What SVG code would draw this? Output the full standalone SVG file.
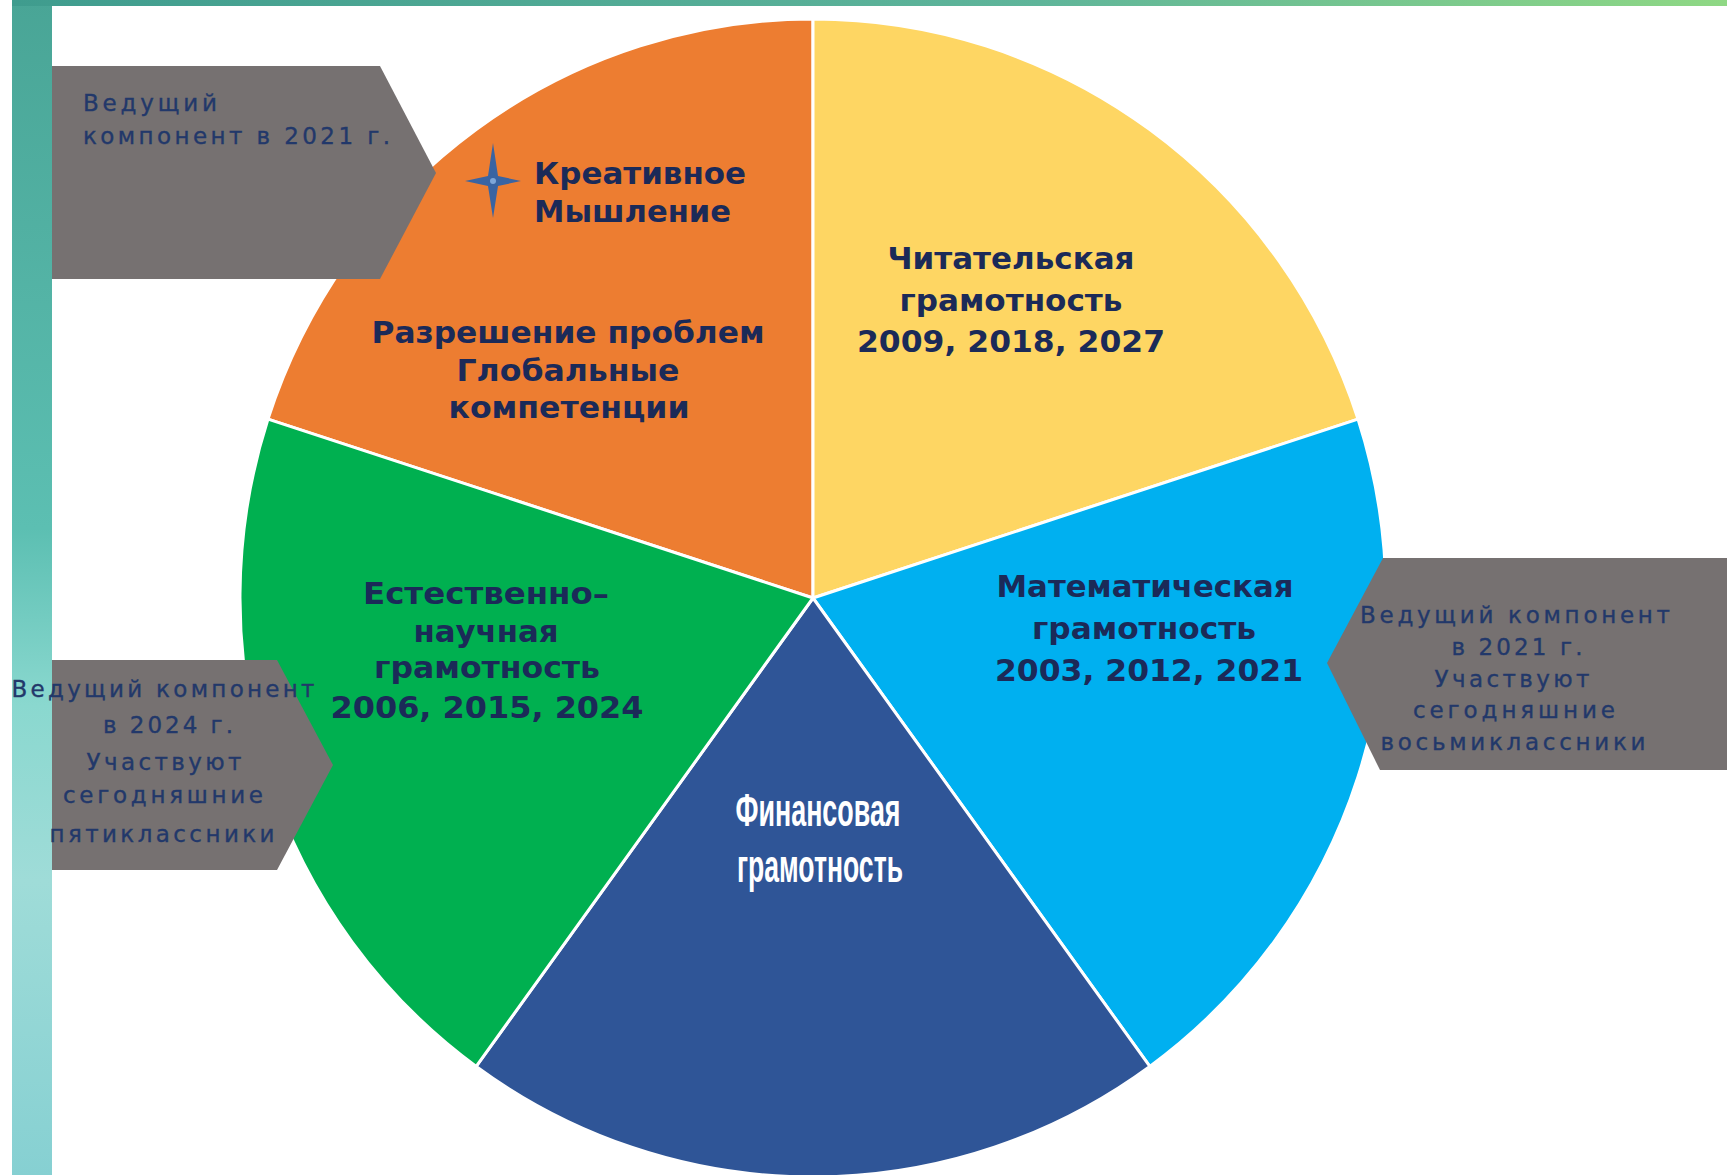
<svg xmlns="http://www.w3.org/2000/svg" width="1727" height="1175" viewBox="0 0 1727 1175">
<defs>
<linearGradient id="topbar" x1="0" y1="0" x2="1" y2="0">
<stop offset="0" stop-color="#3f9c8e"/>
<stop offset="0.6" stop-color="#5fb59a"/>
<stop offset="1" stop-color="#8fd884"/>
</linearGradient>
<linearGradient id="leftbar" x1="0" y1="0" x2="0" y2="1">
<stop offset="0" stop-color="#49a596"/>
<stop offset="0.45" stop-color="#5cbfb2"/>
<stop offset="0.6" stop-color="#8ad8cf"/>
<stop offset="0.75" stop-color="#9fdcd8"/>
<stop offset="1" stop-color="#86d0d2"/>
</linearGradient>
<style>
.slice{stroke:#ffffff;stroke-width:3;stroke-linejoin:round}
.call{fill:#767171}
.ct{font-family:"DejaVu Sans","Noto Sans",sans-serif;font-size:23px;fill:#22386a;stroke:#22386a;stroke-width:0.35;text-anchor:middle}
.pt{font-family:"DejaVu Sans","Noto Sans",sans-serif;font-size:31px;font-weight:bold;fill:#1b2a58;text-anchor:middle}
.ft{font-family:"Liberation Sans","DejaVu Sans",sans-serif;font-size:46px;font-weight:bold;fill:#ffffff;text-anchor:middle}
</style>
</defs>
<rect x="0" y="0" width="1727" height="1175" fill="#ffffff"/>
<rect x="12" y="0" width="40" height="1175" fill="url(#leftbar)"/>
<rect x="12" y="0" width="1715" height="6" fill="url(#topbar)"/>

<g id="pie">
<g id="slice-creative"><path class="slice" fill="#ed7d31" d="M813,598 L268,419.1 A573,579 0 0 1 813,19 Z"/></g>
<g id="slice-reading"><path class="slice" fill="#fed663" d="M813,598 L813,19 A573,579 0 0 1 1358,419.1 Z"/></g>
<g id="slice-math"><path class="slice" fill="#00b0f0" d="M813,598 L1358,419.1 A573,579 0 0 1 1149.8,1066.4 Z"/></g>
<g id="slice-finance"><path class="slice" fill="#2f5597" d="M813,598 L1149.8,1066.4 A573,579 0 0 1 476.2,1066.4 Z"/></g>
<g id="slice-science"><path class="slice" fill="#00b050" d="M813,598 L476.2,1066.4 A573,579 0 0 1 268,419.1 Z"/></g>
</g>

<g id="label-creative">
<path d="M493,143 L498,176 L521,181 L498,186 L493,218 L488,186 L465,181 L488,176 Z" fill="#3a64a2"/>
<circle cx="493" cy="181" r="3" fill="#7ea6d8"/>
<text class="pt" x="534" y="184" style="text-anchor:start" textLength="212" lengthAdjust="spacingAndGlyphs">Креативное</text>
<text class="pt" x="534" y="222" style="text-anchor:start" textLength="197" lengthAdjust="spacingAndGlyphs">Мышление</text>
<text class="pt" x="568" y="343" textLength="393" lengthAdjust="spacingAndGlyphs">Разрешение проблем</text>
<text class="pt" x="568" y="381" textLength="223" lengthAdjust="spacingAndGlyphs">Глобальные</text>
<text class="pt" x="569" y="418" textLength="241" lengthAdjust="spacingAndGlyphs">компетенции</text>
</g>

<g id="label-reading">
<text class="pt" x="1011" y="269" textLength="247" lengthAdjust="spacingAndGlyphs">Читательская</text>
<text class="pt" x="1011" y="311" textLength="223" lengthAdjust="spacingAndGlyphs">грамотность</text>
<text class="pt" x="1011" y="352" textLength="308" lengthAdjust="spacingAndGlyphs">2009, 2018, 2027</text>
</g>

<g id="label-math">
<text class="pt" x="1145" y="597" textLength="297" lengthAdjust="spacingAndGlyphs">Математическая</text>
<text class="pt" x="1144" y="639" textLength="224" lengthAdjust="spacingAndGlyphs">грамотность</text>
<text class="pt" x="1149" y="681" textLength="308" lengthAdjust="spacingAndGlyphs">2003, 2012, 2021</text>
</g>

<g id="label-science">
<text class="pt" x="486" y="604" textLength="246" lengthAdjust="spacingAndGlyphs">Естественно–</text>
<text class="pt" x="486" y="642" textLength="145" lengthAdjust="spacingAndGlyphs">научная</text>
<text class="pt" x="487" y="678" textLength="226" lengthAdjust="spacingAndGlyphs">грамотность</text>
<text class="pt" x="487" y="718" textLength="313" lengthAdjust="spacingAndGlyphs">2006, 2015, 2024</text>
</g>

<g id="label-finance">
<text class="ft" x="818" y="826" textLength="165" lengthAdjust="spacingAndGlyphs">Финансовая</text>
<text class="ft" x="820" y="882" textLength="166" lengthAdjust="spacingAndGlyphs">грамотность</text>
</g>

<g id="callout-top-left">
<path class="call" d="M52,66 L380,66 L436,173 L380,279 L52,279 Z"/>
<text class="ct" x="83" y="111" style="text-anchor:start" textLength="134" lengthAdjust="spacing">Ведущий</text>
<text class="ct" x="83" y="144" style="text-anchor:start" textLength="307" lengthAdjust="spacing">компонент в 2021 г.</text>
</g>

<g id="callout-left">
<path class="call" d="M52,660 L277,660 L333,765 L277,870 L52,870 Z"/>
<text class="ct" x="163" y="697" textLength="303" lengthAdjust="spacing">Ведущий компонент</text>
<text class="ct" x="168" y="733" textLength="130" lengthAdjust="spacing">в 2024 г.</text>
<text class="ct" x="164" y="770" textLength="155" lengthAdjust="spacing">Участвуют</text>
<text class="ct" x="163" y="803" textLength="200" lengthAdjust="spacing">сегодняшние</text>
<text class="ct" x="162" y="842" textLength="225" lengthAdjust="spacing">пятиклассники</text>
</g>

<g id="callout-right">
<path class="call" d="M1383,558 L1727,558 L1727,770 L1380,770 L1327,663 Z"/>
<text class="ct" x="1515" y="623" textLength="310" lengthAdjust="spacing">Ведущий компонент</text>
<text class="ct" x="1517" y="655" textLength="131" lengthAdjust="spacing">в 2021 г.</text>
<text class="ct" x="1512" y="687" textLength="155" lengthAdjust="spacing">Участвуют</text>
<text class="ct" x="1514" y="718" textLength="202" lengthAdjust="spacing">сегодняшние</text>
<text class="ct" x="1513" y="750" textLength="265" lengthAdjust="spacing">восьмиклассники</text>
</g>

<g id="connectors"/>
</svg>
